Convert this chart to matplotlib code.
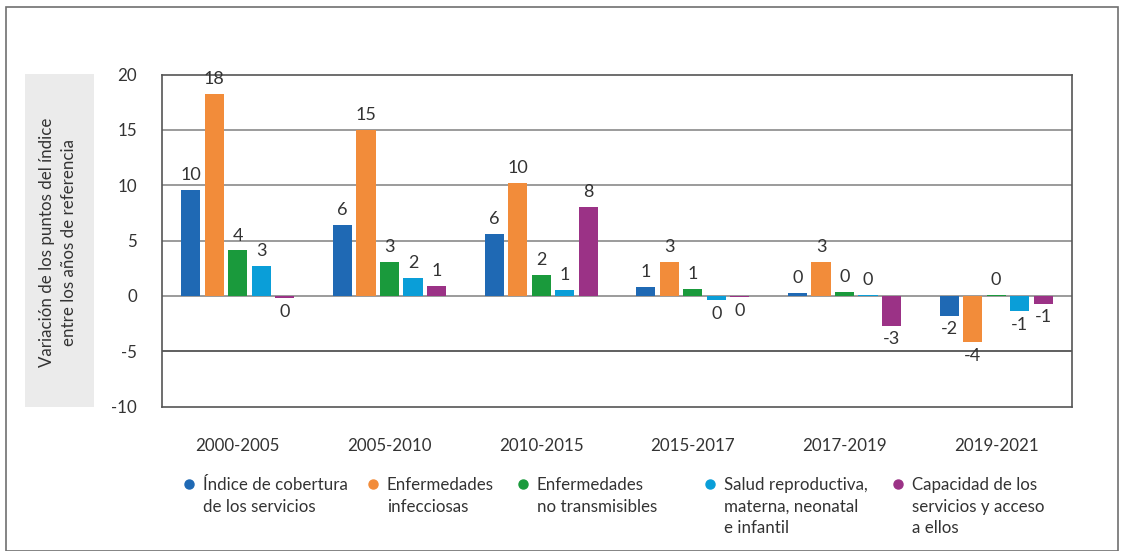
import matplotlib

matplotlib.use("Agg")
import matplotlib.pyplot as plt
from matplotlib.patches import Rectangle
import numpy as np

plt.rcParams["font.family"] = ["Lato", "DejaVu Sans"]
plt.rcParams["axes.unicode_minus"] = False

periods = ["2000-2005", "2005-2010", "2010-2015", "2015-2017", "2017-2019", "2019-2021"]
series_names = [
    "Índice de cobertura\nde los servicios",
    "Enfermedades\ninfecciosas",
    "Enfermedades\nno transmisibles",
    "Salud reproductiva,\nmaterna, neonatal\ne infantil",
    "Capacidad de los\nservicios y acceso\na ellos",
]
indice = [9.6, 6.4, 5.6, 0.8, 0.3, -1.8]
infecciosas = [18.2, 15.0, 10.2, 3.1, 3.1, -4.2]
no_transmisibles = [4.1, 3.1, 1.9, 0.6, 0.35, 0.1]
salud_repro = [2.7, 1.6, 0.55, -0.4, 0.1, -1.4]
capacidad = [-0.2, 0.9, 8.0, -0.15, -2.7, -0.7]
colors = ["#1f69b4", "#f28c3a", "#1a9a3c", "#0a9ed8", "#9b3286"]

all_series = [indice, infecciosas, no_transmisibles, salud_repro, capacidad]
text_color = "#333333"

W, H = 1121, 551
fig = plt.figure(figsize=(W / 100, H / 100), dpi=100)

# outer frame
fig.patches.append(Rectangle((6 / W, 0.5 / H), 1112 / W, (H - 7) / H, transform=fig.transFigure,
                             fill=False, edgecolor="#707070", linewidth=1.2))
# grey box behind the y label
fig.patches.append(Rectangle((25 / W, (H - 407) / H), 69 / W, 333 / H, transform=fig.transFigure,
                             facecolor="#ebebeb", edgecolor="none"))
fig.text(58 / W, (H - 242) / H,
         "Variación de los puntos del índice\nentre los años de referencia",
         rotation=90, ha="center", va="center", fontsize=12.2, color=text_color, linespacing=1.4)

ax = fig.add_axes([162 / W, (H - 406.5) / H, 910 / W, 332 / H])
x = np.arange(len(periods))
step = 0.155
width = 0.126
for i, (vals, c) in enumerate(zip(all_series, colors)):
    pos = x + (i - 2) * step
    ax.bar(pos, vals, width=width, color=c, zorder=3)
    for px, v in zip(pos, vals):
        lab = int(np.sign(v) * np.floor(abs(v) + 0.5))
        if v >= 0:
            ax.annotate(f"{lab}", (px, v), xytext=(0, 5), textcoords="offset points",
                        ha="center", va="bottom", fontsize=13, color=text_color)
        else:
            ax.annotate(f"{lab}", (px, v), xytext=(0, -4), textcoords="offset points",
                        ha="center", va="top", fontsize=13, color=text_color)

ax.set_xlim(-0.5, len(periods) - 0.5)
ax.set_ylim(-10, 20)
ax.set_yticks(range(-10, 21, 5))
for yv in [-5, 0, 5, 10, 15]:
    ax.axhline(yv, color="#8a8a8a" if yv != -5 else "#444444", linewidth=1.2, zorder=1)
for s in ax.spines.values():
    s.set_color("#555555")
    s.set_linewidth(1.2)
ax.set_xticks(x)
ax.set_xticklabels(periods)
ax.tick_params(axis="both", length=0, labelsize=12.2, colors=text_color)
ax.tick_params(axis="x", pad=23)
ax.tick_params(axis="y", pad=18)

# legend
marker_x = [189, 373, 523, 710, 898]
for mx, name, c in zip(marker_x, series_names, colors):
    fig.lines.append(plt.Line2D([mx / W], [(H - 484) / H], marker="o", markersize=6.5,
                                color=c, transform=fig.transFigure, linestyle="none"))
    fig.text((mx + 14) / W, (H - 477) / H, name, ha="left", va="top",
             fontsize=12.2, color=text_color, linespacing=1.44)

fig.savefig("out.png", dpi=100)
